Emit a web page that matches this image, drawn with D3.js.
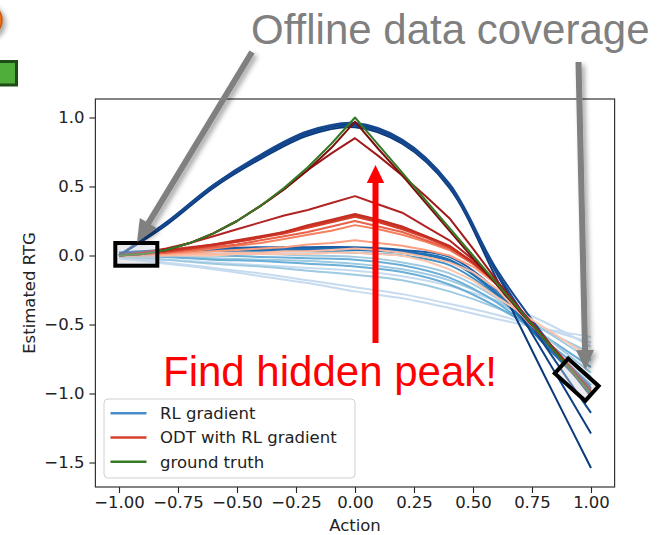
<!DOCTYPE html>
<html>
<head>
<meta charset="utf-8">
<script src="https://cdn.jsdelivr.net/npm/d3@7"></script>
<style>
  body { margin: 0; background: #fff; }
  svg { display: block; }
</style>
</head>
<body>
<script>
const actions = [-1, -0.8, -0.6, -0.4, -0.2, 0, 0.2, 0.4, 0.6, 0.8, 1];
const actionsFine = [-1, -0.9, -0.8, -0.7, -0.6, -0.5, -0.4, -0.3, -0.2, -0.1, 0,
  0.1, 0.2, 0.3, 0.4, 0.5, 0.6, 0.7, 0.8, 0.9, 1];

// RL gradient fits (on actions), drawn light -> dark
const blueSeries = [
  [-0.02, -0.06, -0.10, -0.15, -0.20, -0.26, -0.31, -0.38, -0.46, -0.53, -0.59],
  [-0.02, -0.05, -0.09, -0.13, -0.18, -0.23, -0.28, -0.35, -0.43, -0.53, -0.63],
  [-0.01, -0.03, -0.05, -0.07, -0.09, -0.11, -0.15, -0.22, -0.33, -0.48, -0.66],
  [-0.01, -0.03, -0.06, -0.08, -0.11, -0.14, -0.18, -0.26, -0.38, -0.54, -0.71],
  [0.00, -0.01, -0.02, -0.03, -0.04, -0.06, -0.10, -0.18, -0.33, -0.54, -0.76],
  [0.00, -0.01, -0.03, -0.04, -0.06, -0.08, -0.12, -0.21, -0.37, -0.58, -0.81],
  [0.00, 0.00, 0.00, -0.01, -0.02, -0.03, -0.07, -0.16, -0.34, -0.61, -0.88],
  [0.00, 0.01, 0.01, 0.01, 0.00, -0.01, -0.05, -0.13, -0.31, -0.58, -0.85],
  [0.01, 0.02, 0.03, 0.03, 0.03, 0.02, 0.00, -0.07, -0.29, -0.62, -0.94],
  [0.01, 0.03, 0.04, 0.04, 0.04, 0.04, 0.02, -0.04, -0.28, -0.64, -0.99],
  [0.02, 0.04, 0.05, 0.05, 0.05, 0.05, 0.03, -0.03, -0.27, -0.63, -0.97],
  [0.02, 0.04, 0.05, 0.06, 0.06, 0.06, 0.04, -0.01, -0.25, -0.61, -0.96],
  [0.00, 0.22, 0.49, 0.70, 0.87, 0.93, 0.81, 0.49, -0.17, -0.86, -1.54],
  [0.00, 0.24, 0.51, 0.72, 0.89, 0.95, 0.83, 0.51, -0.13, -0.71, -1.29],
  [0.00, 0.23, 0.50, 0.71, 0.88, 0.94, 0.82, 0.50, -0.12, -0.64, -1.14],
  [0.00, 0.23, 0.51, 0.73, 0.90, 0.96, 0.84, 0.52, -0.10, -0.58, -1.02]
];
const blueColors = [
  '#c6dbef', '#c6dbef', '#c6dbef', '#9ecae1', '#9ecae1', '#6baed6', '#6baed6', '#9ecae1',
  '#4292c6', '#2171b5', '#2171b5', '#1c5ea8', '#0b3a7a', '#0d3f82', '#15488f', '#15488f'
];

// ODT with RL gradient (on actionsFine), drawn light -> dark
const redSeries = [
  [0.00, 0.00, 0.00, 0.00, 0.00, 0.01, 0.01, 0.01, 0.01, 0.02, 0.02, 0.01, 0.00, -0.04, -0.10, -0.18, -0.30, -0.41, -0.52, -0.63, -0.74],
  [0.00, 0.00, 0.00, 0.01, 0.01, 0.02, 0.02, 0.03, 0.03, 0.04, 0.05, 0.04, 0.02, -0.01, -0.05, -0.12, -0.24, -0.42, -0.60, -0.79, -0.98],
  [0.00, 0.00, 0.01, 0.02, 0.03, 0.04, 0.05, 0.06, 0.08, 0.09, 0.11, 0.09, 0.07, 0.04, 0.00, -0.08, -0.21, -0.40, -0.60, -0.80, -1.00],
  [0.00, 0.01, 0.02, 0.03, 0.05, 0.07, 0.09, 0.12, 0.15, 0.18, 0.22, 0.19, 0.15, 0.10, 0.04, -0.06, -0.20, -0.40, -0.60, -0.80, -1.00],
  [0.00, 0.01, 0.02, 0.04, 0.06, 0.08, 0.11, 0.14, 0.17, 0.21, 0.25, 0.21, 0.17, 0.11, 0.05, -0.06, -0.20, -0.40, -0.60, -0.80, -1.00],
  [0.00, 0.01, 0.03, 0.05, 0.07, 0.10, 0.13, 0.16, 0.20, 0.24, 0.28, 0.24, 0.19, 0.13, 0.06, -0.05, -0.20, -0.40, -0.60, -0.80, -1.00],
  [0.00, 0.02, 0.03, 0.05, 0.08, 0.10, 0.13, 0.17, 0.21, 0.25, 0.29, 0.25, 0.20, 0.14, 0.07, -0.05, -0.20, -0.40, -0.60, -0.80, -1.00],
  [0.00, 0.02, 0.04, 0.06, 0.08, 0.11, 0.14, 0.17, 0.22, 0.26, 0.30, 0.26, 0.21, 0.14, 0.07, -0.05, -0.19, -0.39, -0.59, -0.79, -0.99],
  [0.00, 0.02, 0.05, 0.09, 0.14, 0.19, 0.24, 0.29, 0.33, 0.38, 0.43, 0.37, 0.31, 0.21, 0.11, -0.03, -0.19, -0.39, -0.59, -0.78, -0.98],
  [0.00, 0.01, 0.04, 0.09, 0.16, 0.25, 0.36, 0.48, 0.62, 0.74, 0.85, 0.72, 0.58, 0.43, 0.27, 0.05, -0.18, -0.39, -0.60, -0.80, -1.00],
  [0.00, 0.01, 0.04, 0.09, 0.16, 0.25, 0.36, 0.48, 0.62, 0.78, 0.97, 0.77, 0.58, 0.38, 0.18, -0.02, -0.21, -0.41, -0.60, -0.80, -0.99]
];
const redColors = [
  '#fcc5ad', '#fcbba1', '#fc9e80', '#f4805e', '#e8624a', '#d5402c', '#cd3526', '#c42d22',
  '#b02424', '#a01a1a', '#7d0f0f'
];

const groundTruth = [0.00, 0.01, 0.04, 0.09, 0.16, 0.25, 0.36, 0.49, 0.64, 0.81, 1.00,
  0.80, 0.60, 0.40, 0.20, 0.00, -0.20, -0.40, -0.60, -0.80, -1.00];

const xTicks = [-1, -0.75, -0.5, -0.25, 0, 0.25, 0.5, 0.75, 1];
const yTicks = [-1.5, -1, -0.5, 0, 0.5, 1];
const legendLabels = ['RL gradient', 'ODT with RL gradient', 'ground truth'];
const legendColors = ['#4a8cca', '#d6402b', '#347a25'];

const width = 659, height = 535;
const plot = {left: 95.4, right: 614.6, top: 99, bottom: 487};

const svg = d3.select('body').append('svg')
  .attr('width', width)
  .attr('height', height)
  .style('font-family', '"DejaVu Sans", sans-serif');

const defs = svg.append('defs');
const shadow = defs.append('filter').attr('id', 'shadow')
  .attr('x', '-50%').attr('y', '-50%').attr('width', '200%').attr('height', '200%');
shadow.append('feDropShadow')
  .attr('dx', 3).attr('dy', 3).attr('stdDeviation', 2.5)
  .attr('flood-color', '#000').attr('flood-opacity', 0.35);
defs.append('clipPath').attr('id', 'plot-clip')
  .append('rect')
  .attr('x', plot.left).attr('y', plot.top)
  .attr('width', plot.right - plot.left).attr('height', plot.bottom - plot.top);

const x = d3.scaleLinear().domain([-1.1, 1.1]).range([plot.left, plot.right]);
const y = d3.scaleLinear().domain([-1.6775, 1.134]).range([plot.bottom, plot.top]);

const smoothLine = d3.line()
  .x((d, i) => x(actions[i]))
  .y(d => y(d))
  .curve(d3.curveCatmullRom.alpha(0.5));
const fineLine = d3.line()
  .x((d, i) => x(actionsFine[i]))
  .y(d => y(d));

const lines = svg.append('g').attr('clip-path', 'url(#plot-clip)')
  .attr('fill', 'none')
  .attr('stroke-width', 2)
  .attr('stroke-linejoin', 'round');

lines.selectAll('.rl')
  .data(blueSeries)
  .join('path')
  .attr('class', 'rl')
  .attr('stroke', (d, i) => blueColors[i])
  .attr('d', smoothLine);

lines.selectAll('.odt')
  .data(redSeries)
  .join('path')
  .attr('class', 'odt')
  .attr('stroke', (d, i) => redColors[i])
  .attr('d', fineLine);

lines.append('path')
  .attr('stroke', '#347a25')
  .attr('d', fineLine(groundTruth));

// axes
const xAxis = svg.append('g')
  .attr('transform', `translate(0,${plot.bottom})`)
  .call(d3.axisBottom(x).tickValues(xTicks).tickFormat(d3.format('.2f')).tickSize(6).tickPadding(3.5));
const yAxis = svg.append('g')
  .attr('transform', `translate(${plot.left},0)`)
  .call(d3.axisLeft(y).tickValues(yTicks).tickFormat(d3.format('.1f')).tickSize(6).tickPadding(5));

for (const ax of [xAxis, yAxis]) {
  ax.select('.domain').remove();
  ax.selectAll('.tick line').attr('stroke', '#222').attr('stroke-width', 1.1);
  ax.selectAll('.tick text')
    .attr('fill', '#222')
    .style('font-family', '"DejaVu Sans", sans-serif')
    .style('font-size', '16.5px');
}

svg.append('rect')
  .attr('x', plot.left).attr('y', plot.top)
  .attr('width', plot.right - plot.left).attr('height', plot.bottom - plot.top)
  .attr('fill', 'none').attr('stroke', '#333').attr('stroke-width', 1.2);

svg.append('text')
  .attr('x', (plot.left + plot.right) / 2).attr('y', 531)
  .attr('text-anchor', 'middle')
  .attr('fill', '#222')
  .style('font-size', '16.5px')
  .text('Action');

svg.append('text')
  .attr('transform', `translate(35,${(plot.top + plot.bottom) / 2}) rotate(-90)`)
  .attr('text-anchor', 'middle')
  .attr('fill', '#222')
  .style('font-size', '16.5px')
  .text('Estimated RTG');

// legend
const legend = svg.append('g').attr('transform', 'translate(104,399)');
legend.append('rect')
  .attr('width', 251).attr('height', 79).attr('rx', 4)
  .attr('fill', '#fff').attr('fill-opacity', 0.8)
  .attr('stroke', '#d0d0d0');
const items = legend.selectAll('.item')
  .data(legendLabels)
  .join('g')
  .attr('class', 'item')
  .attr('transform', (d, i) => `translate(0,${14.3 + i * 24.2})`);
items.append('line')
  .attr('x1', 6.5).attr('x2', 42.5)
  .attr('stroke', (d, i) => legendColors[i])
  .attr('stroke-width', 2.5);
items.append('text')
  .attr('x', 56).attr('dy', '0.36em')
  .attr('fill', '#222')
  .style('font-size', '16.5px')
  .text(d => d);

// slide annotations
function arrow(g, x1, y1, x2, y2, shaft, headLen, headHalf, color) {
  const len = Math.hypot(x2 - x1, y2 - y1);
  const ux = (x2 - x1) / len, uy = (y2 - y1) / len;
  const nx = -uy, ny = ux;
  const bx = x2 - ux * headLen, by = y2 - uy * headLen;
  g.append('line')
    .attr('x1', x1).attr('y1', y1)
    .attr('x2', bx + ux * 2).attr('y2', by + uy * 2)
    .attr('stroke', color).attr('stroke-width', shaft);
  g.append('path')
    .attr('d', `M${x2},${y2}L${bx + nx * headHalf},${by + ny * headHalf}L${bx - nx * headHalf},${by - ny * headHalf}Z`)
    .attr('fill', color);
}

const notes = svg.append('g').style('font-family', '"Liberation Sans", Arial, sans-serif');

// coverage boxes
notes.append('rect')
  .attr('x', 115.3).attr('y', 243).attr('width', 42).attr('height', 22.7)
  .attr('fill', 'rgba(200,205,212,0.4)')
  .attr('stroke', '#000').attr('stroke-width', 4);
notes.append('g')
  .attr('transform', 'translate(576.7,379.7) rotate(42)')
  .append('rect')
  .attr('x', -20.5).attr('y', -10).attr('width', 41).attr('height', 20)
  .attr('fill', 'rgba(200,205,212,0.4)')
  .attr('stroke', '#000').attr('stroke-width', 4);

const greyArrows = notes.append('g').attr('filter', 'url(#shadow)');
arrow(greyArrows, 252, 52, 137, 242, 6, 22, 10, '#808080');
arrow(greyArrows, 578.5, 62, 585.5, 370, 6, 20, 9, '#808080');

arrow(notes.append('g'), 375.5, 343, 375.5, 165, 6, 18, 8.7, '#ff0000');

notes.append('text')
  .attr('x', 251).attr('y', 44)
  .attr('fill', '#7f7f7f')
  .style('font-size', '42px')
  .text('Offline data coverage');

notes.append('text')
  .attr('x', 163).attr('y', 386)
  .attr('fill', '#ff0000')
  .style('font-size', '42px')
  .text('Find hidden peak!');

// pieces of neighbouring slide shapes at the top-left corner
notes.append('circle')
  .attr('cx', -15).attr('cy', 20).attr('r', 17)
  .attr('fill', '#e8701c').attr('stroke', '#c85a10').attr('stroke-width', 1.5)
  .attr('filter', 'url(#shadow)');
notes.append('rect')
  .attr('x', -10).attr('y', 61.5).attr('width', 26.5).attr('height', 23.5)
  .attr('fill', '#4fae3a').attr('stroke', '#1d4d14').attr('stroke-width', 3);
</script>
</body>
</html>
